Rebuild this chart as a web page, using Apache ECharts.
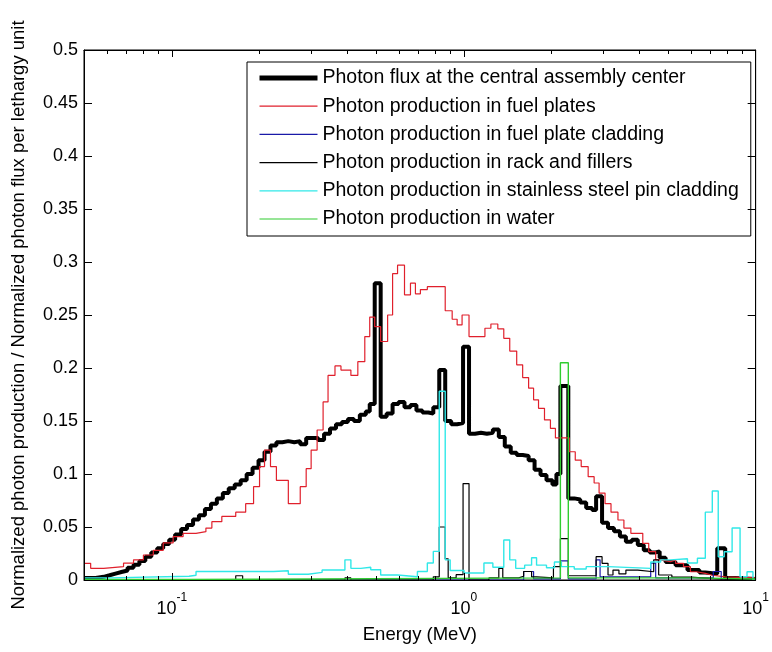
<!DOCTYPE html>
<html>
<head>
<meta charset="utf-8">
<script src="https://cdn.jsdelivr.net/npm/echarts@6.0.0/dist/echarts.min.js"></script>
<style>
  html, body { margin: 0; padding: 0; background: #fff; }
  #chart { width: 772px; height: 652px; }
</style>
</head>
<body>
<div id="chart"></div>
<script>
// 能谱数据: 每组 E 为分箱左边界 (MeV), V 为该箱的值
var fluxE = [0.05, 0.0548, 0.0584, 0.0612, 0.0641, 0.0672, 0.0705, 0.0739, 0.0774, 0.0811,
  0.0850, 0.0891, 0.0934, 0.0979, 0.1026, 0.1076, 0.1127, 0.1182, 0.1238, 0.1298,
  0.1361, 0.1426, 0.1495, 0.1566, 0.1642, 0.1721, 0.1804, 0.1890, 0.1981, 0.2077,
  0.2177, 0.2281, 0.2391, 0.2506, 0.2627, 0.2753, 0.2885, 0.3024, 0.3170, 0.3322,
  0.3482, 0.3650, 0.3825, 0.4010, 0.4202, 0.4405, 0.4617, 0.4763, 0.4954, 0.5192,
  0.5442, 0.5704, 0.5978, 0.6266, 0.6568, 0.6884, 0.7215, 0.7562, 0.7864, 0.8242,
  0.8639, 0.9055, 0.9491, 0.9945, 1.0424, 1.0927, 1.1452, 1.2003, 1.2581, 1.3186,
  1.3821, 1.4486, 1.5183, 1.5914, 1.6680, 1.7482, 1.8324, 1.9205, 2.0130, 2.0771,
  2.1432, 2.2813, 2.3910, 2.5060, 2.6266, 2.7530, 2.8406, 2.9772, 3.1205, 3.2707,
  3.4280, 3.5930, 3.7659, 3.9471, 4.1371, 4.3360, 4.5447, 4.6894, 4.9150, 5.3156,
  5.8396, 6.4140, 6.7228, 7.3858, 7.8641, 8.5027, 10];
var fluxV = [0.002, 0.003, 0.0045, 0.006, 0.0075, 0.009, 0.0115, 0.0145, 0.018, 0.022,
  0.026, 0.030, 0.034, 0.038, 0.043, 0.048, 0.052, 0.057, 0.061, 0.067,
  0.072, 0.077, 0.082, 0.0865, 0.090, 0.094, 0.100, 0.106, 0.113, 0.121,
  0.127, 0.130, 0.131, 0.130, 0.131, 0.128, 0.134, 0.134, 0.132, 0.138,
  0.143, 0.147, 0.149, 0.152, 0.150, 0.156, 0.159, 0.166, 0.280, 0.154,
  0.157, 0.166, 0.168, 0.163, 0.165, 0.160, 0.158, 0.157, 0.163, 0.198,
  0.150, 0.147, 0.148, 0.220, 0.138, 0.139, 0.138, 0.139, 0.142, 0.135,
  0.126, 0.120, 0.118, 0.117, 0.113, 0.104, 0.099, 0.094, 0.090, 0.100,
  0.183, 0.077, 0.076, 0.073, 0.068, 0.066, 0.079, 0.054, 0.049, 0.046,
  0.041, 0.036, 0.038, 0.033, 0.028, 0.026, 0.027, 0.021, 0.017, 0.014,
  0.0095, 0.007, 0.006, 0.030, 0.002, 0.001, 0.001];

var fuelE = [0.05, 0.0527, 0.0584, 0.0683, 0.0739, 0.0799, 0.0864, 0.0934, 0.1010, 0.1093,
  0.1210, 0.1308, 0.1371, 0.1483, 0.1655, 0.1790, 0.1905, 0.1997, 0.2077, 0.2177,
  0.2281, 0.2506, 0.2753, 0.2885, 0.3000, 0.3145, 0.3297, 0.3428, 0.3621, 0.3796,
  0.4105, 0.4336, 0.4581, 0.4763, 0.4954, 0.5192, 0.5485, 0.5704, 0.5932, 0.6266,
  0.6568, 0.6830, 0.7103, 0.7503, 0.8639, 0.9126, 0.9491, 0.9868, 1.0424, 1.1817,
  1.2386, 1.3082, 1.3712, 1.4373, 1.5183, 1.5914, 1.6680, 1.7345, 1.8036, 1.8905,
  1.9813, 2.0609, 2.2992, 2.4098, 2.5257, 2.6681, 2.7966, 2.9082, 3.0480, 3.1948,
  3.3749, 3.5372, 3.7365, 4.1049, 4.3021, 4.5447, 4.7263, 5.1108, 5.3156, 5.6583,
  5.9783, 6.2660, 6.7228, 7.1031, 7.8641, 10];
var fuelV = [0.0157, 0.011, 0.0126, 0.016, 0.019, 0.0236, 0.028, 0.035, 0.041, 0.044,
  0.0456, 0.049, 0.055, 0.060, 0.064, 0.072, 0.088, 0.107, 0.1226, 0.107,
  0.094, 0.072, 0.088, 0.105, 0.1226, 0.1415, 0.168, 0.193, 0.202, 0.198,
  0.193, 0.206, 0.2296, 0.248, 0.239, 0.225, 0.250, 0.289, 0.297, 0.269,
  0.280, 0.270, 0.274, 0.2767, 0.254, 0.246, 0.2406, 0.250, 0.2296, 0.2375,
  0.2415, 0.237, 0.228, 0.216, 0.203, 0.191, 0.181, 0.170, 0.162, 0.151,
  0.143, 0.134, 0.121, 0.113, 0.107, 0.0975, 0.0915, 0.082, 0.072, 0.064,
  0.0566, 0.049, 0.044, 0.0346, 0.0267, 0.019, 0.0173, 0.019, 0.0157, 0.0126,
  0.0078, 0.0063, 0.0045, 0.003, 0.002, 0.002];

var cladE = [0.05, 1.6039, 1.7345, 2.1432, 2.2813, 2.8406, 2.9312, 4.3702, 4.5447, 7.1589, 7.6213, 10];
var cladV = [0, 0.008, 0.001, 0.018, 0.001, 0.019, 0.003, 0.016, 0.002, 0.008, 0, 0];

var rackE = [0.05, 0.1655, 0.1748, 0.3916, 0.4105, 0.7864, 0.8242, 0.8639, 0.8843, 0.9417,
  0.9945, 1.0424, 1.2193, 1.3186, 1.3605, 1.5424, 1.6039, 1.7076, 1.7758, 2.0288,
  2.1432, 2.2813, 2.8406, 2.9772, 3.1205, 3.2451, 3.4012, 3.5930, 3.9471, 4.4743,
  4.6528, 5.1631, 6.0287, 7.272, 10];
var rackV = [0, 0.004, 0, 0.002, 0, 0.003, 0.05, 0.02, 0.002, 0.005,
  0.091, 0, 0.002, 0.011, 0.002, 0.0035, 0.008, 0.003, 0.002, 0.0126,
  0.039, 0.004, 0.022, 0.0157, 0.0047, 0.0094, 0.0057, 0.0094, 0.0078, 0.019,
  0.0047, 0.0028, 0.001, 0, 0];

var steelE = [0.05, 0.0612, 0.1145, 0.1210, 0.2228, 0.2506, 0.2931, 0.3271, 0.3916, 0.4105,
  0.4439, 0.4801, 0.5192, 0.5932, 0.6938, 0.7503, 0.7864, 0.8242, 0.8639, 0.8984,
  1.0024, 1.1725, 1.2581, 1.3712, 1.4373, 1.5064, 1.6165, 1.7076, 1.7758, 1.9205,
  2.0448, 2.1600, 2.3910, 2.6266, 3.1205, 4.3702, 4.7263, 5.1108, 5.8396, 6.3165,
  6.7228, 7.1031, 7.4440, 7.8026, 8.3054, 8.8427, 9.3414, 9.7906, 10];
var steelV = [0.002, 0.0035, 0.0045, 0.008, 0.0087, 0.0054, 0.0072, 0.0094, 0.019, 0.011,
  0.012, 0.0096, 0.0047, 0.003, 0.008, 0.016, 0.027, 0.178, 0.019, 0.009,
  0.0066, 0.016, 0.012, 0.0377, 0.019, 0.011, 0.014, 0.021, 0.014, 0.0115,
  0.017, 0.0126, 0.0104, 0.0126, 0.011, 0.017, 0.019, 0.020, 0.016, 0.0205,
  0.064, 0.084, 0.022, 0.0267, 0.049, 0.003, 0.0078, 0, 0];

var waterE = [0.05, 0.1145, 2.1432, 2.2813, 6.2172, 10];
var waterV = [0.0005, 0.002, 0.205, 0.002, 0.001, 0.001];

var majorTicks = [0.1, 1, 10];
var minorTicks = [0.06, 0.07, 0.08, 0.09, 0.2, 0.3, 0.4, 0.5, 0.6, 0.7, 0.8, 0.9,
  2, 3, 4, 5, 6, 7, 8, 9];

var names = ['Photon flux at the central assembly center',
  'Photon production in fuel plates',
  'Photon production in fuel plate cladding',
  'Photon production in rack and fillers',
  'Photon production in stainless steel pin cladding',
  'Photon production in water'];

var FONT = '"Liberation Sans", Arial, Helvetica, sans-serif';

function pairs(E, V) {
  return E.map(function (e, i) { return [e, V[i]]; });
}

function stepSeries(name, E, V, color, width) {
  return {
    name: name,
    type: 'line',
    step: 'end',
    symbol: 'none',
    data: pairs(E, V),
    lineStyle: { color: color, width: width },
    itemStyle: { color: color },
    emphasis: { disabled: true }
  };
}

function logAxis(pos, ticks, len, showLine, showLabel) {
  return {
    type: 'log',
    logBase: 10,
    min: 0.05,
    max: 10,
    position: pos,
    z: 10,
    axisLine: { show: showLine, lineStyle: { color: '#000', width: 1 } },
    axisTick: { show: true, inside: true, length: len, customValues: ticks,
      lineStyle: { color: '#000', width: 1 } },
    axisLabel: { show: showLabel },
    splitLine: { show: false },
    minorTick: { show: false }
  };
}

(function () {
  var myChart = echarts.init(document.getElementById('chart'), null, { renderer: 'canvas' });

  var xMain = logAxis('bottom', majorTicks, 7, true, true);
  xMain.axisLabel = {
    show: true,
    customValues: majorTicks,
    margin: 12,
    formatter: function (v) {
      var p = Math.round(Math.log10(v));
      return '{b|10}{s|' + p + '}';
    },
    rich: {
      b: { fontSize: 18, fontFamily: FONT, color: '#000', verticalAlign: 'bottom', lineHeight: 26 },
      s: { fontSize: 12, fontFamily: FONT, color: '#000', verticalAlign: 'top', lineHeight: 14 }
    }
  };
  xMain.name = 'Energy (MeV)';
  xMain.nameLocation = 'middle';
  xMain.nameGap = 45;
  xMain.nameTextStyle = { fontSize: 18.5, fontFamily: FONT, color: '#000' };

  // 图例: 第一项用粗线
  var legendData = names.map(function (n, i) {
    return i === 0 ? { name: n, lineStyle: { width: 5 } } : { name: n, lineStyle: { width: 1.2 } };
  });

  var option = {
    animation: false,
    backgroundColor: '#fff',
    textStyle: { fontFamily: FONT },
    grid: {
      left: 84, right: 11, top: 50, bottom: 72,
      show: true, borderColor: '#000', borderWidth: 1, backgroundColor: '#fff'
    },
    legend: {
      orient: 'vertical',
      left: 247,
      top: 62,
      padding: [6, 12, 7, 10],
      itemGap: 8.2,
      itemWidth: 58,
      itemHeight: 14,
      borderColor: '#000',
      borderWidth: 1,
      backgroundColor: '#fff',
      data: legendData,
      itemStyle: { opacity: 0 },
      textStyle: { fontSize: 19.5, fontFamily: FONT, color: '#000' }
    },
    xAxis: [
      xMain,
      logAxis('bottom', minorTicks, 4, false, false),
      logAxis('top', majorTicks, 7, true, false),
      logAxis('top', minorTicks, 4, false, false)
    ],
    yAxis: [
      {
        type: 'value',
        min: 0,
        max: 0.5,
        interval: 0.05,
        position: 'left',
        z: 10,
        axisLine: { show: true, lineStyle: { color: '#000', width: 1 } },
        axisTick: { show: true, inside: true, length: 8, lineStyle: { color: '#000' } },
        axisLabel: { fontSize: 18, fontFamily: FONT, color: '#000', margin: 6 },
        splitLine: { show: false },
        name: 'Normalized photon production / Normalized photon flux per lethargy unit',
        nameLocation: 'middle',
        nameRotate: 90,
        nameGap: 56,
        nameTextStyle: { fontSize: 18.5, fontFamily: FONT, color: '#000' }
      },
      {
        type: 'value',
        min: 0,
        max: 0.5,
        interval: 0.05,
        position: 'right',
        z: 10,
        axisLine: { show: true, lineStyle: { color: '#000', width: 1 } },
        axisTick: { show: true, inside: true, length: 8, lineStyle: { color: '#000' } },
        axisLabel: { show: false },
        splitLine: { show: false }
      }
    ],
    series: [
      stepSeries(names[0], fluxE, fluxV, '#000000', 4),
      stepSeries(names[1], fuelE, fuelV, '#e0202c', 1.2),
      stepSeries(names[2], cladE, cladV, '#1a1aa8', 1.2),
      stepSeries(names[3], rackE, rackV, '#000000', 1.2),
      stepSeries(names[4], steelE, steelV, '#30e8e8', 1.4),
      stepSeries(names[5], waterE, waterV, '#30cc30', 1.4)
    ]
  };
  myChart.setOption(option);
  window.addEventListener('resize', function () {
    myChart.resize();
  });
})();
</script>
</body>
</html>
